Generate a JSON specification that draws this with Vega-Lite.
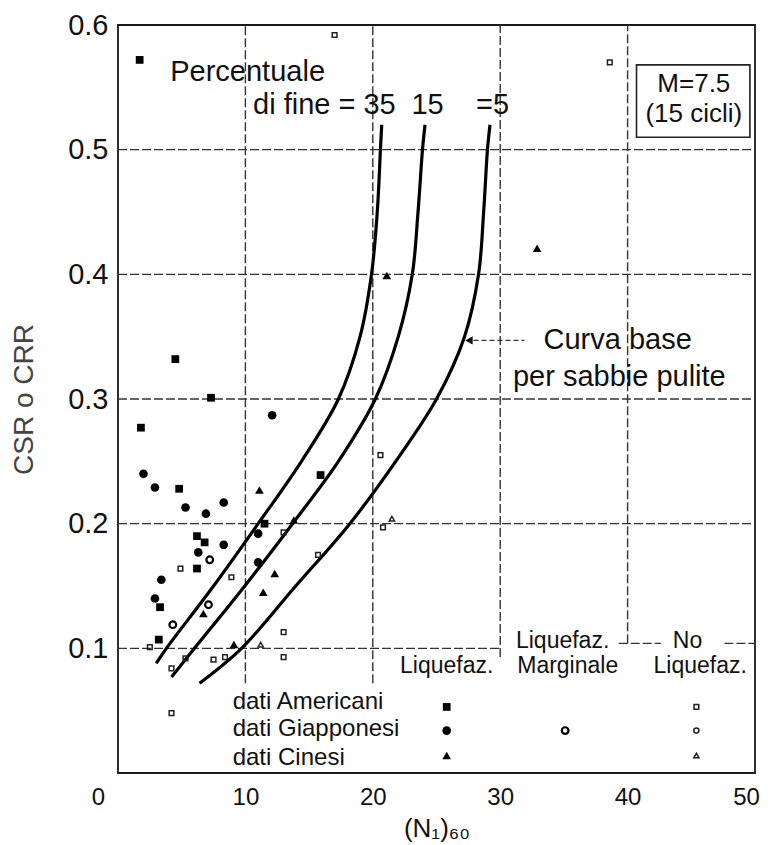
{
  "$schema": "https://vega.github.io/schema/vega-lite/v6.json",
  "width": 637,
  "height": 748,
  "autosize": {"type": "none"},
  "padding": {"left": 118, "top": 25, "right": 16, "bottom": 72},
  "background": "white",
  "config": {
    "view": {"stroke": "#1a1a1a", "strokeWidth": 1.8},
    "font": "Liberation Sans",
    "text": {"font": "Liberation Sans", "color": "#111"}
  },
  "datasets": {
    "griglia": [
      {"x1": 0, "x2": 50, "y1": 0.5, "y2": 0.5},
      {"x1": 0, "x2": 50, "y1": 0.4, "y2": 0.4},
      {"x1": 0, "x2": 50, "y1": 0.3, "y2": 0.3},
      {"x1": 0, "x2": 50, "y1": 0.2, "y2": 0.2},
      {"x1": 0, "x2": 30, "y1": 0.1, "y2": 0.1},
      {"x1": 39.3, "x2": 42.6, "y1": 0.104, "y2": 0.104},
      {"x1": 47.6, "x2": 50, "y1": 0.104, "y2": 0.104},
      {"x1": 10, "x2": 10, "y1": 0.072, "y2": 0.6},
      {"x1": 20, "x2": 20, "y1": 0.072, "y2": 0.6},
      {"x1": 30, "x2": 30, "y1": 0.093, "y2": 0.6},
      {"x1": 40, "x2": 40, "y1": 0.104, "y2": 0.6}
    ],
    "curve": [
      {"fc": "35", "o": 1, "n": 3.0, "csr": 0.088},
      {"fc": "35", "o": 2, "n": 3.8, "csr": 0.1},
      {"fc": "35", "o": 3, "n": 7.5, "csr": 0.15},
      {"fc": "35", "o": 4, "n": 11.0, "csr": 0.2},
      {"fc": "35", "o": 5, "n": 14.4, "csr": 0.25},
      {"fc": "35", "o": 6, "n": 17.3, "csr": 0.3},
      {"fc": "35", "o": 7, "n": 19.0, "csr": 0.35},
      {"fc": "35", "o": 8, "n": 19.9, "csr": 0.4},
      {"fc": "35", "o": 9, "n": 20.35, "csr": 0.45},
      {"fc": "35", "o": 10, "n": 20.6, "csr": 0.5},
      {"fc": "35", "o": 11, "n": 20.7, "csr": 0.52},
      {"fc": "15", "o": 1, "n": 4.2, "csr": 0.077},
      {"fc": "15", "o": 2, "n": 6.0, "csr": 0.1},
      {"fc": "15", "o": 3, "n": 9.95, "csr": 0.15},
      {"fc": "15", "o": 4, "n": 13.7, "csr": 0.2},
      {"fc": "15", "o": 5, "n": 17.3, "csr": 0.25},
      {"fc": "15", "o": 6, "n": 20.2, "csr": 0.3},
      {"fc": "15", "o": 7, "n": 22.0, "csr": 0.35},
      {"fc": "15", "o": 8, "n": 23.1, "csr": 0.4},
      {"fc": "15", "o": 9, "n": 23.55, "csr": 0.45},
      {"fc": "15", "o": 10, "n": 23.9, "csr": 0.5},
      {"fc": "15", "o": 11, "n": 24.1, "csr": 0.52},
      {"fc": "5", "o": 1, "n": 6.4, "csr": 0.072},
      {"fc": "5", "o": 2, "n": 9.7, "csr": 0.1},
      {"fc": "5", "o": 3, "n": 13.95, "csr": 0.15},
      {"fc": "5", "o": 4, "n": 18.2, "csr": 0.2},
      {"fc": "5", "o": 5, "n": 21.8, "csr": 0.25},
      {"fc": "5", "o": 6, "n": 25.0, "csr": 0.3},
      {"fc": "5", "o": 7, "n": 27.2, "csr": 0.35},
      {"fc": "5", "o": 8, "n": 28.3, "csr": 0.4},
      {"fc": "5", "o": 9, "n": 28.7, "csr": 0.45},
      {"fc": "5", "o": 10, "n": 29.0, "csr": 0.5},
      {"fc": "5", "o": 11, "n": 29.2, "csr": 0.52}
    ],
    "punti": [
      {"tipo": "Am", "n": 1.7, "csr": 0.572},
      {"tipo": "Am", "n": 4.5, "csr": 0.332},
      {"tipo": "Am", "n": 7.3, "csr": 0.301},
      {"tipo": "Am", "n": 1.8, "csr": 0.277},
      {"tipo": "Am", "n": 4.8, "csr": 0.228},
      {"tipo": "Am", "n": 6.2, "csr": 0.19},
      {"tipo": "Am", "n": 6.8, "csr": 0.185},
      {"tipo": "Am", "n": 6.2, "csr": 0.164},
      {"tipo": "Am", "n": 3.3, "csr": 0.133},
      {"tipo": "Am", "n": 3.2, "csr": 0.107},
      {"tipo": "Am", "n": 15.9, "csr": 0.239},
      {"tipo": "Am", "n": 11.5, "csr": 0.2},
      {"tipo": "Gi", "n": 12.1, "csr": 0.287},
      {"tipo": "Gi", "n": 2.0, "csr": 0.24},
      {"tipo": "Gi", "n": 2.9, "csr": 0.229},
      {"tipo": "Gi", "n": 5.3, "csr": 0.213},
      {"tipo": "Gi", "n": 6.9, "csr": 0.208},
      {"tipo": "Gi", "n": 8.3, "csr": 0.217},
      {"tipo": "Gi", "n": 6.3, "csr": 0.177},
      {"tipo": "Gi", "n": 8.3, "csr": 0.183},
      {"tipo": "Gi", "n": 3.4, "csr": 0.155},
      {"tipo": "Gi", "n": 2.9, "csr": 0.14},
      {"tipo": "Gi", "n": 11.0, "csr": 0.192},
      {"tipo": "Gi", "n": 11.0, "csr": 0.169},
      {"tipo": "Ci", "n": 21.1, "csr": 0.399},
      {"tipo": "Ci", "n": 32.9, "csr": 0.421},
      {"tipo": "Ci", "n": 11.1, "csr": 0.227},
      {"tipo": "Ci", "n": 12.3, "csr": 0.16},
      {"tipo": "Ci", "n": 11.4, "csr": 0.145},
      {"tipo": "Ci", "n": 13.8, "csr": 0.203},
      {"tipo": "Ci", "n": 6.7, "csr": 0.128},
      {"tipo": "Ci", "n": 9.1, "csr": 0.103},
      {"tipo": "Marg", "n": 7.2, "csr": 0.171},
      {"tipo": "Marg", "n": 4.3, "csr": 0.119},
      {"tipo": "Marg", "n": 7.1, "csr": 0.135},
      {"tipo": "NoAm", "n": 17.0, "csr": 0.592},
      {"tipo": "NoAm", "n": 38.6, "csr": 0.57},
      {"tipo": "NoAm", "n": 20.6, "csr": 0.255},
      {"tipo": "NoAm", "n": 20.8, "csr": 0.197},
      {"tipo": "NoCi", "n": 21.5, "csr": 0.204},
      {"tipo": "NoAm", "n": 4.9, "csr": 0.164},
      {"tipo": "NoAm", "n": 8.9, "csr": 0.157},
      {"tipo": "NoAm", "n": 13.0, "csr": 0.193},
      {"tipo": "NoAm", "n": 15.7, "csr": 0.175},
      {"tipo": "NoAm", "n": 13.0, "csr": 0.113},
      {"tipo": "NoAm", "n": 13.0, "csr": 0.093},
      {"tipo": "NoAm", "n": 4.2, "csr": 0.048},
      {"tipo": "NoCi", "n": 11.2, "csr": 0.103},
      {"tipo": "NoAm", "n": 2.5, "csr": 0.101},
      {"tipo": "NoAm", "n": 5.3, "csr": 0.092},
      {"tipo": "NoAm", "n": 7.5, "csr": 0.091},
      {"tipo": "NoAm", "n": 8.4, "csr": 0.093},
      {"tipo": "NoAm", "n": 4.2, "csr": 0.084},
      {"tipo": "Am", "n": 25.8, "csr": 0.053},
      {"tipo": "Gi", "n": 25.8, "csr": 0.034},
      {"tipo": "Ci", "n": 25.8, "csr": 0.014},
      {"tipo": "Marg", "n": 35.1, "csr": 0.034},
      {"tipo": "NoAm", "n": 45.4, "csr": 0.053},
      {"tipo": "NoGi", "n": 45.4, "csr": 0.034},
      {"tipo": "NoCi", "n": 45.4, "csr": 0.014}
    ],
    "testiSx": [
      {"t": "Percentuale", "n": 4.1, "csr": 0.562},
      {"t": "di fine = 35", "n": 10.6, "csr": 0.536},
      {"t": "Curva base", "n": 33.4, "csr": 0.347},
      {"t": "per sabbie pulite", "n": 31.0, "csr": 0.318}
    ],
    "testiCentro": [
      {"t": "15", "n": 24.3, "csr": 0.536},
      {"t": "=5", "n": 29.4, "csr": 0.536}
    ],
    "testiBox": [
      {"t": "M=7.5", "n": 45.2, "csr": 0.5525},
      {"t": "(15 cicli)", "n": 45.2, "csr": 0.5285}
    ],
    "legendaSx": [
      {"t": "dati Americani", "n": 9.0, "csr": 0.057},
      {"t": "dati Giapponesi", "n": 9.0, "csr": 0.035},
      {"t": "dati Cinesi", "n": 9.0, "csr": 0.012}
    ],
    "legendaCentro": [
      {"t": "Liquefaz.", "n": 25.8, "csr": 0.086},
      {"t": "Liquefaz.", "n": 34.9, "csr": 0.106},
      {"t": "Marginale", "n": 35.3, "csr": 0.086},
      {"t": "No", "n": 44.7, "csr": 0.106},
      {"t": "Liquefaz.", "n": 45.7, "csr": 0.086}
    ]
  },
  "layer": [
    {
      "data": {"name": "griglia"},
      "mark": {"type": "rule", "color": "#333", "strokeWidth": 1.4, "strokeDash": [9, 3]},
      "encoding": {
        "x": {
          "field": "x1", "type": "quantitative",
          "scale": {"domain": [0, 50], "nice": false, "zero": false},
          "axis": {
            "values": [0, 10, 20, 30, 40, 50],
            "grid": false, "domain": false, "ticks": false,
            "labelFontSize": 24, "labelPadding": 12, "labelColor": "#111",
            "labelFlush": false,
            "labelOffset": {"condition": [{"test": "datum.value === 0", "value": -20}, {"test": "datum.value === 50", "value": -9}], "value": 0},
            "title": "(N₁)₆₀", "titleFontSize": 26, "titleFontWeight": "normal",
            "titleColor": "#111", "titlePadding": 6
          }
        },
        "x2": {"field": "x2"},
        "y": {
          "field": "y1", "type": "quantitative",
          "scale": {"domain": [0, 0.6], "nice": false, "zero": false},
          "axis": {
            "values": [0.1, 0.2, 0.3, 0.4, 0.5, 0.6],
            "format": ".1f",
            "grid": false, "domain": false, "ticks": false,
            "labelFontSize": 29, "labelPadding": 10, "labelColor": "#111",
            "labelFlush": false,
            "title": "CSR o CRR", "titleFontSize": 28, "titleFontWeight": "normal",
            "titleColor": "#444", "titlePadding": 29
          }
        },
        "y2": {"field": "y2"}
      }
    },
    {
      "data": {"name": "curve"},
      "mark": {"type": "line", "color": "#000", "strokeWidth": 3.2, "interpolate": "catmull-rom"},
      "encoding": {
        "x": {"field": "n", "type": "quantitative"},
        "y": {"field": "csr", "type": "quantitative"},
        "detail": {"field": "fc"},
        "order": {"field": "o", "type": "quantitative"}
      }
    },
    {
      "data": {"values": [{"x1": 40.7, "x2": 49.6, "y1": 0.51, "y2": 0.568}]},
      "mark": {"type": "rect", "fill": "white", "stroke": "#222", "strokeWidth": 1.6},
      "encoding": {
        "x": {"field": "x1", "type": "quantitative"},
        "x2": {"field": "x2"},
        "y": {"field": "y1", "type": "quantitative"},
        "y2": {"field": "y2"}
      }
    },
    {
      "data": {"values": [{"x1": 27.9, "x2": 31.9, "y": 0.347}]},
      "mark": {"type": "rule", "color": "#333", "strokeWidth": 1.3, "strokeDash": [5, 3]},
      "encoding": {
        "x": {"field": "x1", "type": "quantitative"},
        "x2": {"field": "x2"},
        "y": {"field": "y", "type": "quantitative"}
      }
    },
    {
      "data": {"values": [{"n": 27.55, "csr": 0.347}]},
      "mark": {"type": "point", "shape": "triangle-left", "filled": true, "color": "#000", "size": 70, "opacity": 1},
      "encoding": {
        "x": {"field": "n", "type": "quantitative"},
        "y": {"field": "csr", "type": "quantitative"}
      }
    },
    {
      "data": {"name": "testiSx"},
      "mark": {"type": "text", "align": "left", "baseline": "middle", "fontSize": 29},
      "encoding": {
        "x": {"field": "n", "type": "quantitative"},
        "y": {"field": "csr", "type": "quantitative"},
        "text": {"field": "t"}
      }
    },
    {
      "data": {"name": "testiCentro"},
      "mark": {"type": "text", "align": "center", "baseline": "middle", "fontSize": 29},
      "encoding": {
        "x": {"field": "n", "type": "quantitative"},
        "y": {"field": "csr", "type": "quantitative"},
        "text": {"field": "t"}
      }
    },
    {
      "data": {"name": "testiBox"},
      "mark": {"type": "text", "align": "center", "baseline": "middle", "fontSize": 26},
      "encoding": {
        "x": {"field": "n", "type": "quantitative"},
        "y": {"field": "csr", "type": "quantitative"},
        "text": {"field": "t"}
      }
    },
    {
      "data": {"name": "legendaSx"},
      "mark": {"type": "text", "align": "left", "baseline": "middle", "fontSize": 24},
      "encoding": {
        "x": {"field": "n", "type": "quantitative"},
        "y": {"field": "csr", "type": "quantitative"},
        "text": {"field": "t"}
      }
    },
    {
      "data": {"name": "legendaCentro"},
      "mark": {"type": "text", "align": "center", "baseline": "middle", "fontSize": 23},
      "encoding": {
        "x": {"field": "n", "type": "quantitative"},
        "y": {"field": "csr", "type": "quantitative"},
        "text": {"field": "t"}
      }
    },
    {
      "data": {"name": "punti"},
      "transform": [{"filter": "datum.tipo === 'Am'"}],
      "mark": {"type": "point", "shape": "square", "filled": true, "color": "#000", "size": 60, "opacity": 1},
      "encoding": {
        "x": {"field": "n", "type": "quantitative"},
        "y": {"field": "csr", "type": "quantitative"}
      }
    },
    {
      "data": {"name": "punti"},
      "transform": [{"filter": "datum.tipo === 'Gi'"}],
      "mark": {"type": "point", "shape": "circle", "filled": true, "color": "#000", "size": 75, "opacity": 1},
      "encoding": {
        "x": {"field": "n", "type": "quantitative"},
        "y": {"field": "csr", "type": "quantitative"}
      }
    },
    {
      "data": {"name": "punti"},
      "transform": [{"filter": "datum.tipo === 'Ci'"}],
      "mark": {"type": "point", "shape": "triangle-up", "filled": true, "color": "#000", "size": 75, "opacity": 1},
      "encoding": {
        "x": {"field": "n", "type": "quantitative"},
        "y": {"field": "csr", "type": "quantitative"}
      }
    },
    {
      "data": {"name": "punti"},
      "transform": [{"filter": "datum.tipo === 'Marg'"}],
      "mark": {"type": "point", "shape": "circle", "filled": false, "color": "#000", "size": 45, "strokeWidth": 2.2, "opacity": 1},
      "encoding": {
        "x": {"field": "n", "type": "quantitative"},
        "y": {"field": "csr", "type": "quantitative"}
      }
    },
    {
      "data": {"name": "punti"},
      "transform": [{"filter": "datum.tipo === 'NoAm'"}],
      "mark": {"type": "point", "shape": "square", "filled": false, "color": "#222", "size": 22, "strokeWidth": 1.5, "opacity": 1},
      "encoding": {
        "x": {"field": "n", "type": "quantitative"},
        "y": {"field": "csr", "type": "quantitative"}
      }
    },
    {
      "data": {"name": "punti"},
      "transform": [{"filter": "datum.tipo === 'NoGi'"}],
      "mark": {"type": "point", "shape": "circle", "filled": false, "color": "#222", "size": 26, "strokeWidth": 1.5, "opacity": 1},
      "encoding": {
        "x": {"field": "n", "type": "quantitative"},
        "y": {"field": "csr", "type": "quantitative"}
      }
    },
    {
      "data": {"name": "punti"},
      "transform": [{"filter": "datum.tipo === 'NoCi'"}],
      "mark": {"type": "point", "shape": "triangle-up", "filled": false, "color": "#222", "size": 28, "strokeWidth": 1.5, "opacity": 1},
      "encoding": {
        "x": {"field": "n", "type": "quantitative"},
        "y": {"field": "csr", "type": "quantitative"}
      }
    }
  ]
}
